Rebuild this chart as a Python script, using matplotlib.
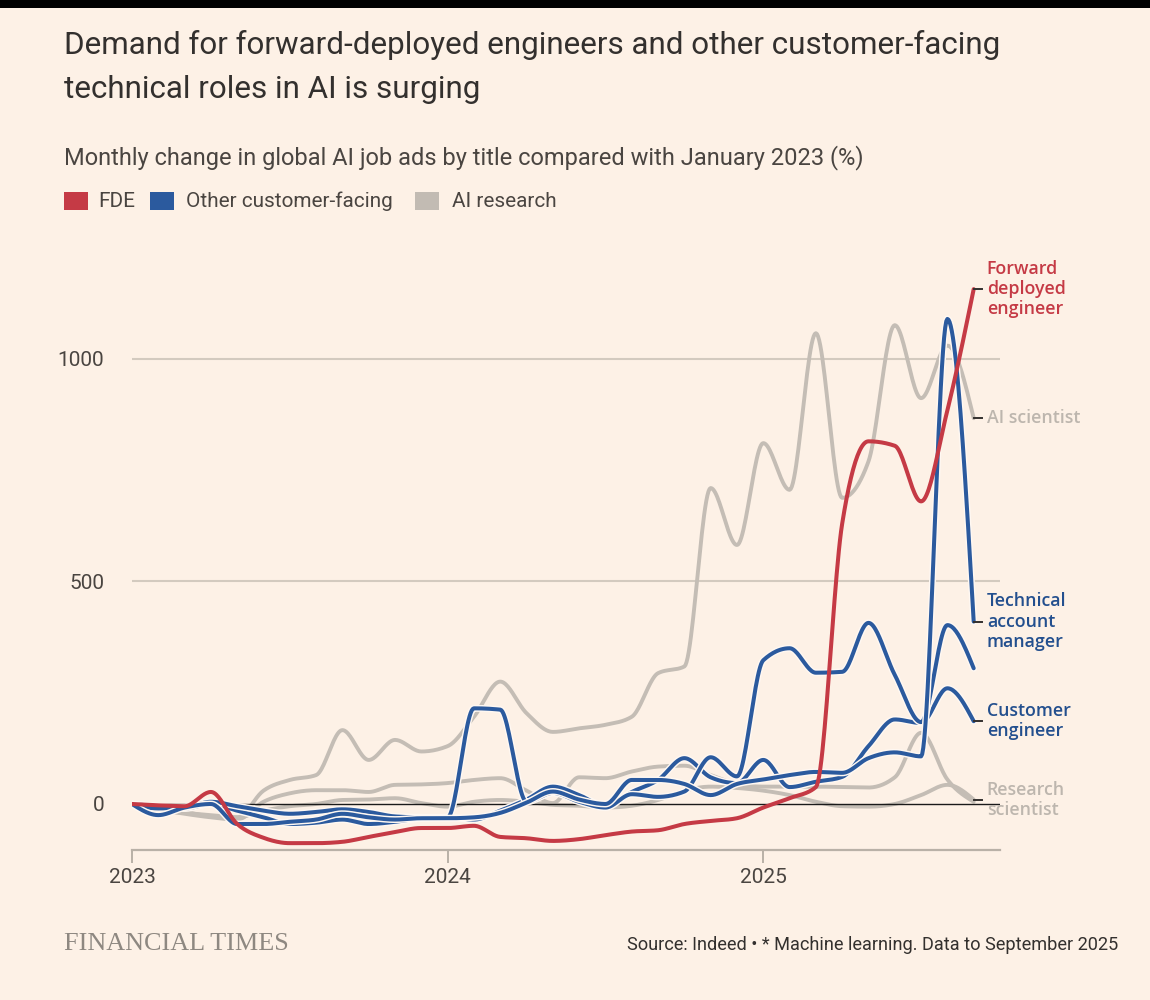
import numpy as np
import matplotlib
matplotlib.use("Agg")
import matplotlib.pyplot as plt
import matplotlib.patheffects as pe
from matplotlib.patches import Rectangle

# ---------------- data (monthly, Jan 2023 .. Sep 2025) ----------------
months = list(range(33))
year_ticks = [0, 12, 24]
year_labels = ["2023", "2024", "2025"]
y_ticks = [0, 500, 1000]
y_tick_labels = ["0", "500", "1000"]

fde = [0, -3, -5, 27, -45, -76, -88, -88, -85, -74, -63, -54, -54, -49, -74, -77,
       -83, -79, -70, -62, -59, -45, -38, -32, -8, 13, 38, 630, 815, 805, 680, 885, 1157]

tech_account_manager = [0, -25, -8, 0, -45, -45, -40, -35, -22, -30, -35, -32, -32, -30,
                        -20, 3, 28, 10, 0, 54, 54, 45, 20, 45, 55, 65, 72, 70, 103, 116,
                        107, 1090, 410]
other_customer = [0, -10, -8, 5, -5, -15, -22, -18, -12, -18, -28, -30, -30, 215, 212, 5,
                  25, 5, -8, 22, 16, 28, 105, 62, 323, 350, 295, 297, 407, 290, 184, 402, 305]
customer_engineer = [0, -5, -10, 0, -15, -30, -45, -42, -35, -45, -40, -32, -30, -35, -15,
                     10, 39, 20, -5, 27, 54, 103, 60, 47, 99, 38, 50, 61, 130, 190, 182, 260, 186]

ai_scientist = [0, -10, -18, -28, -30, 30, 54, 65, 166, 99, 144, 118, 130, 196, 275, 204,
                162, 170, 178, 196, 294, 309, 710, 582, 811, 706, 1058, 688, 770, 1076,
                912, 1030, 867]
research_other = [0, -12, -22, -30, -35, 5, 24, 31, 31, 27, 43, 44, 47, 54, 58, 30, 2, 60,
                  58, 73, 84, 86, 65, 45, 39, 39, 39, 38, 37, 60, 160, 55, 5]
research_scientist = [0, -15, -20, -25, -30, -15, -5, 0, 9, 10, 13, 2, -6, 5, 9, 5, -2, -4,
                      -8, -4, 9, 30, 39, 36, 30, 20, 5, -5, -6, 0, 20, 43, 10]

legend_labels = ["FDE", "Other customer-facing", "AI research"]

# ---------------- style ----------------
BG = "#FDF1E6"
RED = "#C53A45"
BLUE = "#2B5A9E"
BLUE_TXT = "#234F8E"
GREY = "#C4BDB5"
GREY_TXT = "#BDB6AE"
TXT = "#33302E"
TXT2 = "#4A4541"
GRID = "#D3CABF"
AXIS = "#B9B1A7"

W, H = 1150, 1000
fig = plt.figure(figsize=(W / 100, H / 100), dpi=100, facecolor=BG)


def fx(px):
    return px / W


def fy(py):
    return 1 - py / H


# black strip at top (screenshot edge)
fig.patches.append(Rectangle((0, fy(8)), 1, 8 / H, transform=fig.transFigure,
                             facecolor="black", edgecolor="none", zorder=0))

ax = fig.add_axes([fx(132), fy(850), fx(1000) - fx(132), fy(270) - fy(850)])
ax.set_facecolor(BG)
ax.set_xlim(0, 33)
ax.set_ylim(-103.4, 1200)


def monotone(x, y, n=24):
    x = np.asarray(x, float)
    y = np.asarray(y, float)
    h = np.diff(x)
    s = np.diff(y) / h
    m = np.zeros_like(y)
    for k in range(1, len(y) - 1):
        p = (s[k - 1] * h[k] + s[k] * h[k - 1]) / (h[k - 1] + h[k])
        m[k] = (np.sign(s[k - 1]) + np.sign(s[k])) * min(abs(s[k - 1]), abs(s[k]), 0.5 * abs(p))
    m[0] = (3 * s[0] - m[1]) / 2
    m[-1] = (3 * s[-1] - m[-2]) / 2
    xs, ys = [], []
    t = np.linspace(0, 1, n, endpoint=False)
    h00 = 2 * t**3 - 3 * t**2 + 1
    h10 = t**3 - 2 * t**2 + t
    h01 = -2 * t**3 + 3 * t**2
    h11 = t**3 - t**2
    for k in range(len(h)):
        xs.append(x[k] + t * h[k])
        ys.append(h00 * y[k] + h10 * h[k] * m[k] + h01 * y[k + 1] + h11 * h[k] * m[k + 1])
    xs.append([x[-1]])
    ys.append([y[-1]])
    return np.concatenate(xs), np.concatenate(ys)


# gridlines
for v in y_ticks[1:]:
    ax.axhline(v, color=GRID, lw=1.5, zorder=1)

# grey series
for series in (ai_scientist, research_other, research_scientist):
    sx, sy = monotone(months, series)
    ax.plot(sx, sy, color=GREY, lw=2.8, solid_capstyle="round", zorder=2)

# zero line
ax.axhline(0, color="#1a1a1a", lw=1.0, zorder=3)

halo = [pe.Stroke(linewidth=5.0, foreground="#FFF8F2"), pe.Normal()]
for series in (customer_engineer, other_customer, tech_account_manager):
    sx, sy = monotone(months, series)
    ax.plot(sx, sy, color=BLUE, lw=2.9, solid_capstyle="round", zorder=4, path_effects=halo)

sx, sy = monotone(months, fde)
ax.plot(sx, sy, color=RED, lw=2.9, solid_capstyle="round", zorder=5)

# axes styling
for sp in ("top", "right", "left"):
    ax.spines[sp].set_visible(False)
ax.spines["bottom"].set_color(AXIS)
ax.spines["bottom"].set_linewidth(1.6)
ax.set_xticks(year_ticks)
ax.set_xticklabels(year_labels)
ax.set_yticks(y_ticks)
ax.set_yticklabels(y_tick_labels)
ax.tick_params(axis="x", length=9, width=1.4, color=AXIS, pad=4, labelsize=15, labelcolor=TXT2)
ax.tick_params(axis="y", length=0, pad=20, labelsize=15, labelcolor=TXT2)
for lab in ax.get_xticklabels() + ax.get_yticklabels():
    lab.set_family("Roboto")

# end labels
label_font = dict(family="Open Sans", weight="semibold", fontsize=12.8, linespacing=1.16)
end_labels = [
    (fde[-1], "Forward\ndeployed\nengineer", RED),
    (ai_scientist[-1], "AI scientist", GREY_TXT),
    (tech_account_manager[-1], "Technical\naccount\nmanager", BLUE_TXT),
    (customer_engineer[-1], "Customer\nengineer", BLUE_TXT),
    (9, "Research\nscientist", GREY_TXT),
]
for yv, txt, col in end_labels:
    ax.plot([32.02, 32.3], [yv, yv], color=TXT, lw=1.4, clip_on=False, zorder=6)
    ax.text(32.5, yv, txt, color=col, va="center", ha="left", clip_on=False, **label_font)

# titles
title_kw = dict(family="Roboto", color=TXT, ha="left", va="center")
t1 = fig.text(fx(64), fy(45), "Demand for forward-deployed engineers and other customer-facing",
              fontsize=21, **title_kw)
t2 = fig.text(fx(64), fy(89), "technical roles in AI is surging", fontsize=21, **title_kw)
sub = fig.text(fx(64), fy(158), "Monthly change in global AI job ads by title compared with January 2023 (%)",
               fontsize=15, family="Roboto", color=TXT2, ha="left", va="center")

# legend
leg_items = [(64, 98, legend_labels[0], RED), (150, 186, legend_labels[1], BLUE),
             (415, 452, legend_labels[2], "#C2BBB3")]
leg_texts = []
for sq_x, tx, lab, col in leg_items:
    fig.patches.append(Rectangle((fx(sq_x), fy(210)), 24 / W, 18 / H, transform=fig.transFigure,
                                 facecolor=col, edgecolor="none"))
    leg_texts.append(fig.text(fx(tx), fy(201), lab, fontsize=15, family="Roboto", color=TXT2,
                              ha="left", va="center"))

# footer
ft = fig.text(fx(64), fy(944), "FINANCIAL TIMES", family="Liberation Serif", fontsize=17,
              color="#8E8881", ha="left", va="center")
src = fig.text(fx(1118), fy(945), "Source: Indeed \u2022 * Machine learning. Data to September 2025",
               family="Roboto", fontsize=13.5, color=TXT, ha="right", va="center")

# fit text widths to the reference layout
fig.canvas.draw()
r = fig.canvas.get_renderer()


def fit(t, width_px):
    bb = t.get_window_extent(r)
    t.set_fontsize(t.get_fontsize() * width_px / bb.width)


fit(t1, 936)
t2.set_fontsize(t1.get_fontsize())
fit(sub, 798)
fit(leg_texts[1], 207)
for lt in leg_texts:
    lt.set_fontsize(leg_texts[1].get_fontsize())
fit(ft, 224)
fit(src, 493)

fig.savefig("out.png", dpi=100, facecolor=BG)
